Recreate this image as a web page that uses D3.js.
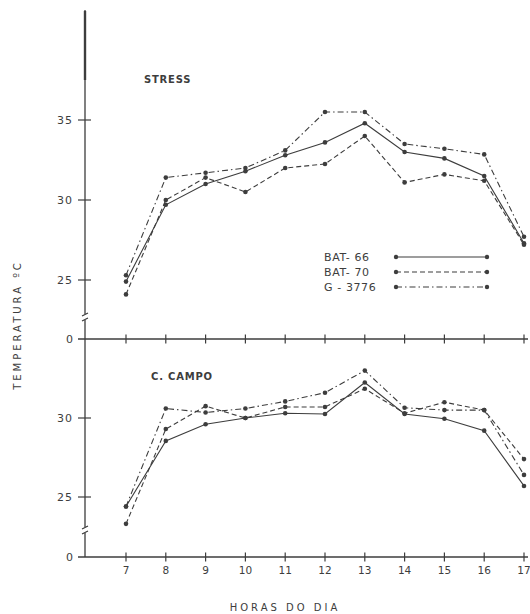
<!DOCTYPE html>
<html>
<head>
<meta charset="utf-8">
<script src="https://cdn.jsdelivr.net/npm/d3@7"></script>
<style>
    body { margin: 0; background: #fff; }
    text { font-family: "DejaVu Sans", sans-serif; fill: #3d3d3d; }
</style>
</head>
<body>
<div id="chart"></div>
<script>
// hours of the day
let hours = [7, 8, 9, 10, 11, 12, 13, 14, 15, 16, 17];

// STRESS panel
let stressBat66 = [24.9, 29.7, 31.0, 31.8, 32.8, 33.6, 34.8, 33.0, 32.6, 31.5, 27.3];
let stressBat70 = [24.1, 30.0, 31.4, 30.5, 32.0, 32.25, 34.0, 31.1, 31.6, 31.2, 27.2];
let stressG3776 = [25.3, 31.4, 31.7, 32.0, 33.1, 35.5, 35.5, 33.5, 33.2, 32.85, 27.7];

// C. CAMPO panel
let campoBat66 = [24.4, 28.55, 29.6, 30.0, 30.3, 30.25, 32.25, 30.25, 29.95, 29.2, 25.7];
let campoBat70 = [23.3, 29.3, 30.75, 30.0, 30.7, 30.7, 31.85, 30.3, 31.0, 30.5, 27.4];
let campoG3776 = [24.4, 30.6, 30.35, 30.6, 31.05, 31.6, 33.0, 30.65, 30.5, 30.5, 26.4];

let seriesNames = ["BAT- 66", "BAT- 70", "G - 3776"];
let stressTicks = [25, 30, 35];
let campoTicks = [25, 30];

let ink = "#3d3d3d";
let dashes = [null, "5,3", "6,3,1.5,3"];

let svg = d3.select("#chart").append("svg")
    .attr("width", 530)
    .attr("height", 614);

let x = d3.scaleLinear().domain([7, 17]).range([126, 524]);
let axisX = 85;

// the y axes are broken: the 25.. part of each panel, then a zero line below
let yStress = d3.scaleLinear().domain([25, 35]).range([280, 120]);
let yCampo = d3.scaleLinear().domain([25, 30]).range([497, 418]);
let stressZero = 339;
let campoZero = 557;

// vertical axis (one line through both panels)
svg.append("line")
    .attr("x1", axisX).attr("x2", axisX)
    .attr("y1", 10).attr("y2", campoZero)
    .attr("stroke", ink).attr("stroke-width", 1.3);
// thick top part, as in the print
svg.append("line")
    .attr("x1", axisX).attr("x2", axisX)
    .attr("y1", 11).attr("y2", 80)
    .attr("stroke", ink).attr("stroke-width", 2.4);

function drawPanel(y, zeroY, ticks, data, title, titleY, breakY) {
    // zero line with crossing ticks
    svg.append("line")
        .attr("x1", 78).attr("x2", 528)
        .attr("y1", zeroY).attr("y2", zeroY)
        .attr("stroke", ink).attr("stroke-width", 1.3);

    svg.selectAll(null)
        .data(hours)
        .enter().append("line")
        .attr("x1", d => x(d)).attr("x2", d => x(d))
        .attr("y1", zeroY - 4.5).attr("y2", zeroY + 4.5)
        .attr("stroke", ink).attr("stroke-width", 1.2);

    svg.append("text")
        .attr("x", 73)
        .attr("y", zeroY + 4)
        .attr("text-anchor", "end")
        .attr("font-size", 11)
        .text("0");

    // y ticks and labels
    svg.selectAll(null)
        .data(ticks)
        .enter().append("line")
        .attr("x1", axisX - 7).attr("x2", axisX + 6)
        .attr("y1", d => y(d)).attr("y2", d => y(d))
        .attr("stroke", ink).attr("stroke-width", 1.2);

    svg.selectAll(null)
        .data(ticks)
        .enter().append("text")
        .attr("x", 73)
        .attr("y", d => y(d) + 4)
        .attr("text-anchor", "end")
        .attr("font-size", 11)
        .attr("letter-spacing", 1)
        .text(d => d);

    // axis break mark
    svg.append("rect")
        .attr("x", axisX - 2).attr("y", breakY - 4)
        .attr("width", 4).attr("height", 6)
        .attr("fill", "#fff");
    svg.append("path")
        .attr("d", `M${axisX - 3},${breakY - 2} L${axisX + 3},${breakY - 5} M${axisX - 3},${breakY + 3} L${axisX + 3},${breakY}`)
        .attr("stroke", ink).attr("stroke-width", 1.2).attr("fill", "none");

    // panel title
    svg.append("text")
        .attr("x", title.x)
        .attr("y", titleY)
        .attr("font-size", 10)
        .attr("font-weight", "bold")
        .attr("letter-spacing", 0.8)
        .text(title.text);

    let line = d3.line()
        .x((d, i) => x(hours[i]))
        .y(d => y(d));

    data.forEach((values, s) => {
        svg.append("path")
            .datum(values)
            .attr("fill", "none")
            .attr("stroke", ink)
            .attr("stroke-width", 1.1)
            .attr("stroke-dasharray", dashes[s])
            .attr("d", line);

        svg.selectAll(null)
            .data(values)
            .enter().append("circle")
            .attr("cx", (d, i) => x(hours[i]))
            .attr("cy", d => y(d))
            .attr("r", 2.3)
            .attr("fill", ink);
    });
}

drawPanel(yStress, stressZero, stressTicks, [stressBat66, stressBat70, stressG3776],
    {text: "STRESS", x: 144}, 83, 318);
drawPanel(yCampo, campoZero, campoTicks, [campoBat66, campoBat70, campoG3776],
    {text: "C. CAMPO", x: 151}, 380, 531);

// hour labels under the lower panel
svg.selectAll(null)
    .data(hours)
    .enter().append("text")
    .attr("x", d => x(d))
    .attr("y", 574)
    .attr("text-anchor", "middle")
    .attr("font-size", 10.5)
    .text(d => d);

// legend
let legend = svg.append("g");
seriesNames.forEach((name, i) => {
    let ly = 257 + i * 15;
    legend.append("text")
        .attr("x", 324)
        .attr("y", ly + 4)
        .attr("font-size", 11)
        .attr("letter-spacing", 0.6)
        .text(name);
    legend.append("line")
        .attr("x1", 396).attr("x2", 487)
        .attr("y1", ly).attr("y2", ly)
        .attr("stroke", ink)
        .attr("stroke-width", 1.1)
        .attr("stroke-dasharray", dashes[i]);
    [396, 487].forEach(px => {
        legend.append("circle")
            .attr("cx", px).attr("cy", ly)
            .attr("r", 2.2)
            .attr("fill", ink);
    });
});

// axis titles
svg.append("text")
    .attr("x", 285)
    .attr("y", 611)
    .attr("text-anchor", "middle")
    .attr("font-size", 10)
    .attr("letter-spacing", 3)
    .text("HORAS DO DIA");

svg.append("text")
    .attr("transform", "translate(21, 325) rotate(-90)")
    .attr("text-anchor", "middle")
    .attr("font-size", 10)
    .attr("letter-spacing", 3)
    .text("TEMPERATURA ºC");
</script>
</body>
</html>
